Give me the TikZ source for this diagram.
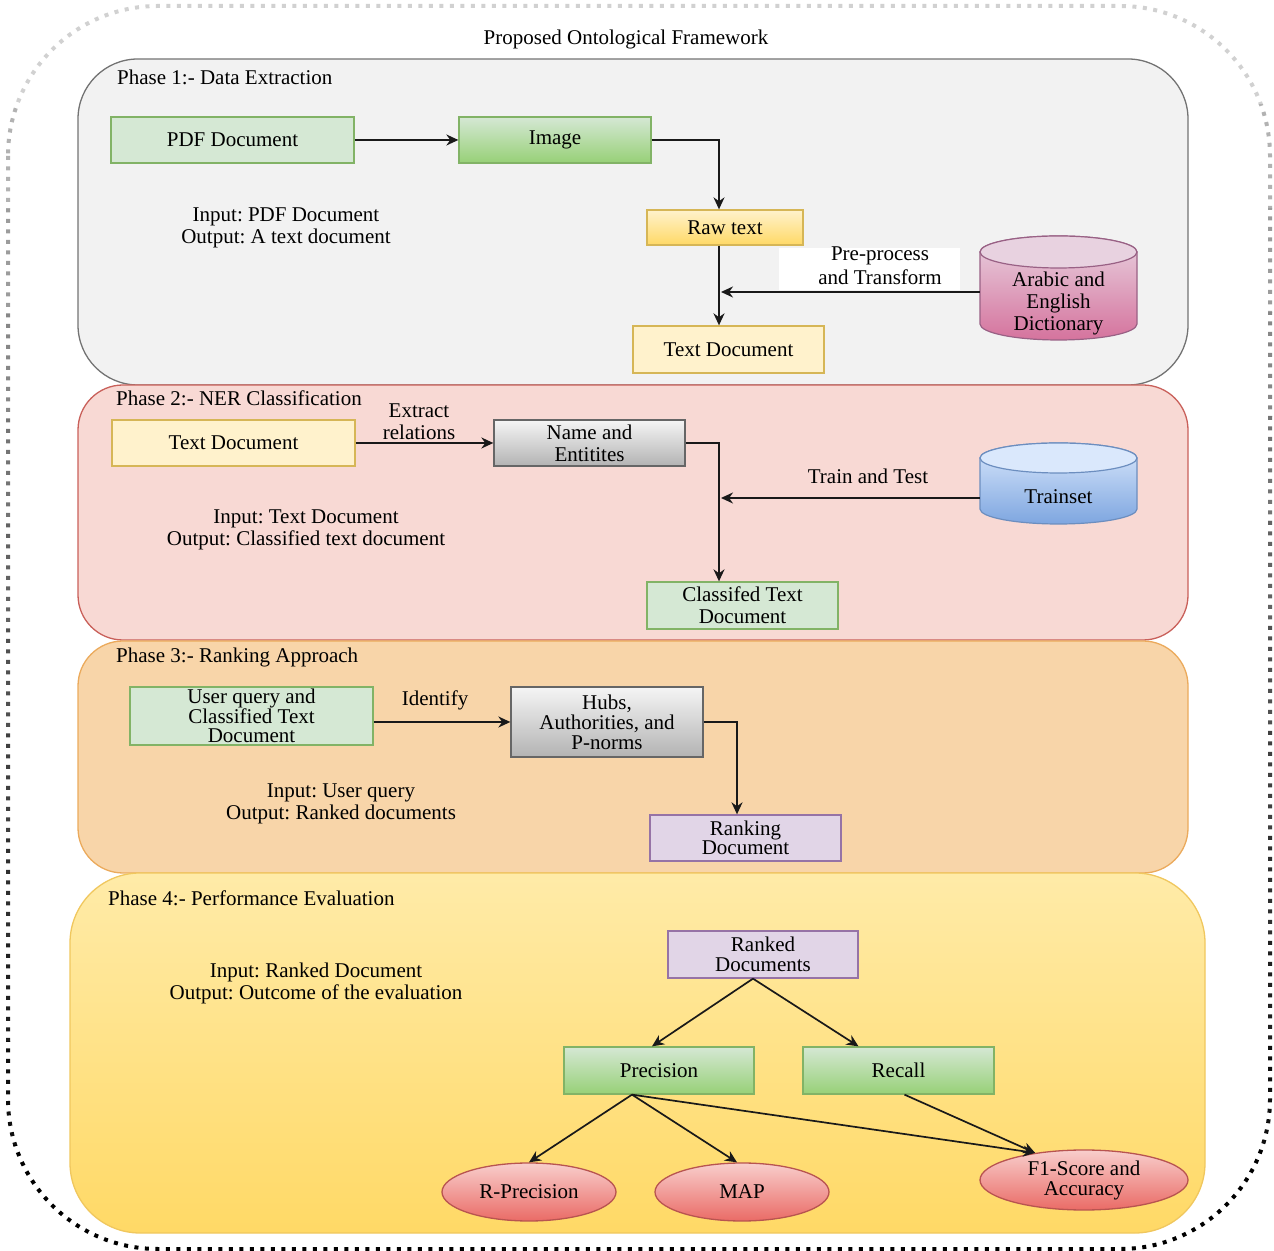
\documentclass[tikz,border=0pt]{standalone}
\usepackage{fontspec}
\setmainfont{Liberation Serif}
\usetikzlibrary{arrows.meta,calc,shapes.geometric}
\frenchspacing

\definecolor{pAfill}{HTML}{F2F2F2}\definecolor{pAline}{HTML}{737373}
\definecolor{pBfill}{HTML}{F8D9D4}\definecolor{pBline}{HTML}{C9605A}
\definecolor{pCfill}{HTML}{F8D5A9}\definecolor{pCline}{HTML}{EBAA5C}
\definecolor{pDtop}{HTML}{FFEBA8}\definecolor{pDbot}{HTML}{FFD966}\definecolor{pDline}{HTML}{F0C75E}
\definecolor{gfill}{HTML}{D5E8D4}\definecolor{gdark}{HTML}{97D077}\definecolor{gline}{HTML}{82B366}
\definecolor{yfill}{HTML}{FFF2CC}\definecolor{ydark}{HTML}{FFD966}\definecolor{yline}{HTML}{D6B656}
\definecolor{grtop}{HTML}{F5F5F5}\definecolor{grbot}{HTML}{B3B3B3}\definecolor{grline}{HTML}{666666}
\definecolor{pufill}{HTML}{E1D5E7}\definecolor{puline}{HTML}{9673A6}
\definecolor{rtop}{HTML}{F8CECC}\definecolor{rbot}{HTML}{EA6B66}\definecolor{rline}{HTML}{B85450}
\definecolor{btop}{HTML}{DAE8FC}\definecolor{bbot}{HTML}{7EA6E0}\definecolor{bline}{HTML}{6C8EBF}
\definecolor{mtop}{HTML}{E8D2E0}\definecolor{mbot}{HTML}{D5739D}\definecolor{mline}{HTML}{996185}

\tikzset{
  plain/.style={font=\fontsize{21}{22}\selectfont, align=center, inner sep=0pt},
  box/.style={plain, draw, line width=1.3pt, rectangle},
  greenflat/.style={box, fill=gfill, draw=gline},
  greengrad/.style={box, top color=gfill, bottom color=gdark, draw=gline},
  yellowflat/.style={box, fill=yfill, draw=yline},
  yellowgrad/.style={box, top color=yfill, bottom color=ydark, draw=yline},
  graygrad/.style={box, top color=grtop, bottom color=grbot, draw=grline},
  purpleflat/.style={box, fill=pufill, draw=puline},
  redell/.style={plain, ellipse, draw=rline, line width=1.3pt, top color=rtop, bottom color=rbot},
  arr/.style={-{Stealth[length=12pt,width=11pt]}, line width=1.7pt, black!90},
  thickarr/.style={arr, line width=2.2pt},
  panel/.style={line width=1.3pt},
}

\begin{document}
\begin{tikzpicture}[x=1pt,y=1pt]
\useasboundingbox (0,0) rectangle (1274,1250);

% outer dotted frame, fading from light grey at the top to black at the bottom
\foreach \i in {0,...,11}{
  \pgfmathsetmacro\shadeval{18+82*(\i/11)^0.8}
  \begin{scope}
    \clip (-5,{1250-(\i+1)*1250/12}) rectangle (1280,{1250-\i*1250/12});
    \draw[black!\shadeval, line width=4pt, dash pattern=on 4pt off 6.5pt, rounded corners=150pt]
      (8,1244) rectangle (1270,1);
  \end{scope}
}

\node[plain] (title) at (626,1211) {Proposed Ontological Framework};

% phase panels
\draw[panel, fill=pAfill, draw=pAline, rounded corners=60pt] (78,865) rectangle (1188,1191);
\draw[panel, fill=pBfill, draw=pBline, rounded corners=45pt] (78,610) rectangle (1188,865);
\draw[panel, fill=pCfill, draw=pCline, rounded corners=45pt] (78,377) rectangle (1188,609);
\draw[panel, top color=pDtop, bottom color=pDbot, draw=pDline, rounded corners=70pt] (70,17) rectangle (1205,377);

% ---------------- Phase 1 ----------------
\node[plain, anchor=west] (ph1) at (117,1173) {Phase 1:- Data Extraction};
\node[greenflat, minimum width=243, minimum height=46] (pdf) at (232.5,1110) {PDF Document};
\node[greengrad, minimum width=192, minimum height=46] (img) at (555,1110) {Image};
\node[yellowgrad, minimum width=156, minimum height=35] (raw) at (725,1022.5) {Raw text};
\node[yellowflat, minimum width=191, minimum height=47] (td1) at (728.5,900.5) {Text Document};
\node[plain] (io1) at (286,1022) {Input: PDF Document\\Output: A text document};

% dictionary cylinder
\draw[top color=mtop, bottom color=mbot, draw=mline, line width=1.2pt]
  (980,998) -- (980,926) arc[start angle=180, end angle=360, x radius=78.5, y radius=16]
  -- (1137,998) arc[start angle=0, end angle=180, x radius=78.5, y radius=16] -- cycle;
\draw[fill=mtop, draw=mline, line width=1.2pt] (1058.5,998) ellipse[x radius=78.5, y radius=16];
\node[plain, minimum width=157] (dict) at (1058.5,947) {Arabic and\\English\\Dictionary};

\node[fill=white, inner sep=0pt, minimum width=181, minimum height=42] (prebg) at (869.5,981) {};
\node[plain, font=\fontsize{21}{24}\selectfont] (pre) at (880,984) {Pre-process\\and Transform};

\coordinate (j1) at (721,958);
\draw[arr] (pdf.east) -- (img.west);
\draw[arr] (img.east) -| ([xshift=-6]raw.north);
\draw[thickarr] ([xshift=-6]raw.south) -- ([xshift=-6]raw.south |- td1.north);
\draw[arr] (dict.west |- j1) -- (j1);

% ---------------- Phase 2 ----------------
\node[plain, anchor=west] (ph2) at (116,852) {Phase 2:- NER Classification};
\node[yellowflat, minimum width=243, minimum height=46] (td2) at (233.5,807) {Text Document};
\node[plain] (ext) at (419,828) {Extract\\relations};
\node[graygrad, minimum width=191, minimum height=46] (ne) at (589.5,807) {Name and\\Entitites};
\node[greenflat, minimum width=191, minimum height=47] (cls) at (742.5,644.5) {Classifed Text\\Document};
\node[plain] (io2) at (306,720.5) {Input: Text Document\\Output: Classified text document};

% trainset cylinder
\draw[top color=btop, bottom color=bbot, draw=bline, line width=1.2pt]
  (980,792) -- (980,741) arc[start angle=180, end angle=360, x radius=78.5, y radius=15]
  -- (1137,792) arc[start angle=0, end angle=180, x radius=78.5, y radius=15] -- cycle;
\draw[fill=btop, draw=bline, line width=1.2pt] (1058.5,792) ellipse[x radius=78.5, y radius=15];
\node[plain, minimum width=157] (train) at (1058.5,753) {Trainset};
\node[plain] (tt) at (868,774) {Train and Test};

\coordinate (j2) at (721,752);
\draw[arr] (td2.east) -- (ne.west);
\draw[thickarr] (ne.east) -| ([xshift=-23.5]cls.north);
\draw[arr] (train.west |- j2) -- (j2);

% ---------------- Phase 3 ----------------
\node[plain, anchor=west] (ph3) at (116,593) {Phase 3:- Ranking Approach};
\node[greenflat, minimum width=243, minimum height=58, font=\fontsize{21}{19}\selectfont] (uq) at (251.5,534) {User query and\\Classified Text\\Document};
\node[plain] (idf) at (435,550) {Identify};
\node[graygrad, minimum width=192, minimum height=70, font=\fontsize{21}{20}\selectfont] (hubs) at (607,528) {Hubs,\\Authorities, and\\P-norms};
\node[purpleflat, minimum width=191, minimum height=46, font=\fontsize{21}{19}\selectfont] (rank) at (745.5,412) {Ranking\\Document};
\node[plain] (io3) at (341,446) {Input: User query\\Output: Ranked documents};

\draw[arr] (uq.east |- hubs.west) -- (hubs.west);
\draw[thickarr] (hubs.east) -| ([xshift=-8.5]rank.north);

% ---------------- Phase 4 ----------------
\node[plain, anchor=west] (ph4) at (108,352) {Phase 4:- Performance Evaluation};
\node[purpleflat, minimum width=190, minimum height=47, font=\fontsize{21}{20}\selectfont] (ranked) at (763,295.5) {Ranked\\Documents};
\node[greengrad, minimum width=190, minimum height=47] (prec) at (659,179.5) {Precision};
\node[greengrad, minimum width=191, minimum height=47] (recall) at (898.5,179.5) {Recall};
\node[redell, minimum width=174, minimum height=58] (rprec) at (529,58) {R-Precision};
\node[redell, minimum width=174, minimum height=58] (map) at (742,58) {MAP};
\node[redell, minimum width=208, minimum height=60, font=\fontsize{21}{20}\selectfont] (f1) at (1084,70) {F1-Score and\\Accuracy};
\node[plain] (io4) at (316,266.5) {Input: Ranked Document\\Output: Outcome of the evaluation};

\draw[arr] ([xshift=-10]ranked.south) -- ([xshift=-7]prec.north);
\draw[arr] ([xshift=-10]ranked.south) -- ([xshift=-40]recall.north);
\draw[arr] ([xshift=-27]prec.south) -- (rprec.north);
\draw[arr] ([xshift=-27]prec.south) -- ([xshift=-5]map.north);
\draw[arr] ([xshift=-27]prec.south) -- (f1.151);
\draw[arr] ([xshift=6]recall.south) -- (f1.151);
\end{tikzpicture}
\end{document}
